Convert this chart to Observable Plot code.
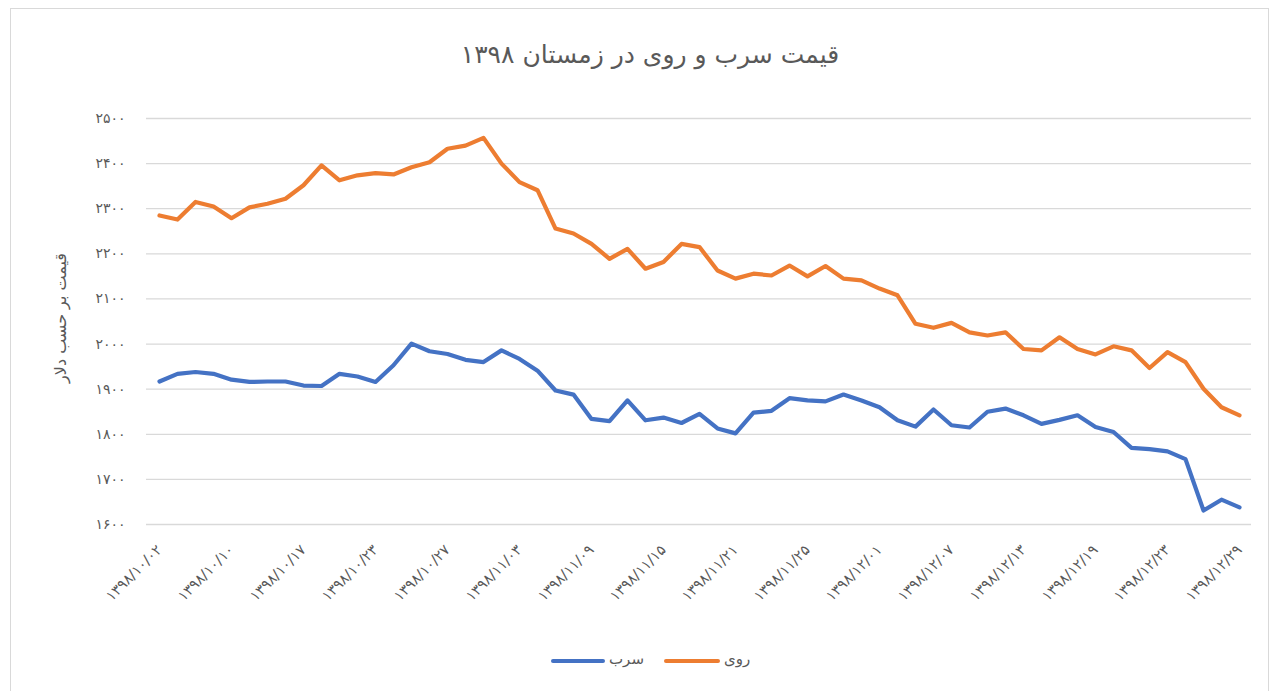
<!DOCTYPE html>
<html>
<head>
<meta charset="utf-8">
<script src="https://cdn.jsdelivr.net/npm/d3@7"></script>
<script src="https://cdn.jsdelivr.net/npm/@observablehq/plot@0.6"></script>
<style>
  html, body { margin: 0; padding: 0; background: #fff; }
  #wrap { position: relative; width: 1276px; height: 691px; overflow: hidden; font-family: "DejaVu Sans", sans-serif; }
  #frame { position: absolute; left: 10px; top: 8px; width: 1259px; height: 690px; border: 1px solid #d9d9d9; box-sizing: border-box; }
  #title { position: absolute; left: 0; width: 1300px; top: 40px; text-align: center; font-size: 25px; color: #595959; direction: rtl; }
  #ylabel { position: absolute; left: 60px; top: 318px; transform: translate(-50%, -50%) rotate(-90deg); white-space: nowrap; font-size: 16px; color: #595959; direction: rtl; }
  #chart { position: absolute; left: 0; top: 0; }
  .leg { position: absolute; top: 650px; font-size: 15px; color: #595959; direction: rtl; }
  .sw { position: absolute; top: 659px; height: 4px; border-radius: 2px; }
</style>
</head>
<body>
<div id="wrap">
  <div id="frame"></div>
  <div id="chart"></div>
  <div id="title">قیمت سرب و روی در زمستان ۱۳۹۸</div>
  <div id="ylabel"></div>
  <div class="sw" style="left:551px;width:54px;background:#4472C4"></div>
  <div class="leg" style="left:609px">سرب</div>
  <div class="sw" style="left:664px;width:56px;background:#ED7D31"></div>
  <div class="leg" style="left:724px">روی</div>
</div>
<script>
// Trading dates (Persian calendar)
const dates = [
  "۱۳۹۸/۱۰/۰۲","۱۳۹۸/۱۰/۰۳","۱۳۹۸/۱۰/۰۶","۱۳۹۸/۱۰/۰۹","۱۳۹۸/۱۰/۱۰",
  "۱۳۹۸/۱۰/۱۲","۱۳۹۸/۱۰/۱۳","۱۳۹۸/۱۰/۱۶","۱۳۹۸/۱۰/۱۷","۱۳۹۸/۱۰/۱۸",
  "۱۳۹۸/۱۰/۱۹","۱۳۹۸/۱۰/۲۰","۱۳۹۸/۱۰/۲۳","۱۳۹۸/۱۰/۲۴","۱۳۹۸/۱۰/۲۵",
  "۱۳۹۸/۱۰/۲۶","۱۳۹۸/۱۰/۲۷","۱۳۹۸/۱۰/۳۰","۱۳۹۸/۱۱/۰۱","۱۳۹۸/۱۱/۰۲",
  "۱۳۹۸/۱۱/۰۳","۱۳۹۸/۱۱/۰۴","۱۳۹۸/۱۱/۰۷","۱۳۹۸/۱۱/۰۸","۱۳۹۸/۱۱/۰۹",
  "۱۳۹۸/۱۱/۱۰","۱۳۹۸/۱۱/۱۱","۱۳۹۸/۱۱/۱۴","۱۳۹۸/۱۱/۱۵","۱۳۹۸/۱۱/۱۶",
  "۱۳۹۸/۱۱/۱۷","۱۳۹۸/۱۱/۱۸","۱۳۹۸/۱۱/۲۱","۱۳۹۸/۱۱/۲۲","۱۳۹۸/۱۱/۲۳",
  "۱۳۹۸/۱۱/۲۴","۱۳۹۸/۱۱/۲۵","۱۳۹۸/۱۱/۲۸","۱۳۹۸/۱۱/۲۹","۱۳۹۸/۱۱/۳۰",
  "۱۳۹۸/۱۲/۰۱","۱۳۹۸/۱۲/۰۲","۱۳۹۸/۱۲/۰۵","۱۳۹۸/۱۲/۰۶","۱۳۹۸/۱۲/۰۷",
  "۱۳۹۸/۱۲/۰۸","۱۳۹۸/۱۲/۰۹","۱۳۹۸/۱۲/۱۲","۱۳۹۸/۱۲/۱۳","۱۳۹۸/۱۲/۱۴",
  "۱۳۹۸/۱۲/۱۵","۱۳۹۸/۱۲/۱۶","۱۳۹۸/۱۲/۱۹","۱۳۹۸/۱۲/۲۰","۱۳۹۸/۱۲/۲۱",
  "۱۳۹۸/۱۲/۲۲","۱۳۹۸/۱۲/۲۳","۱۳۹۸/۱۲/۲۶","۱۳۹۸/۱۲/۲۷","۱۳۹۸/۱۲/۲۸",
  "۱۳۹۸/۱۲/۲۹"
];

// Lead (سرب) price, USD
const lead = [
  1917,1934,1938,1934,1921,1916,1917,1917,1908,1907,
  1934,1928,1916,1953,2001,1984,1978,1965,1960,1986,
  1967,1941,1897,1888,1834,1829,1875,1831,1837,1825,
  1845,1813,1802,1848,1852,1880,1875,1873,1888,1875,
  1860,1831,1817,1855,1820,1815,1850,1857,1842,1823,
  1832,1842,1816,1805,1770,1767,1762,1745,1631,1655,
  1638
];

// Zinc (روی) price, USD
const zinc = [
  2285,2276,2315,2305,2279,2303,2311,2322,2352,2396,
  2363,2374,2379,2376,2392,2403,2433,2440,2457,2400,
  2359,2341,2256,2245,2222,2189,2211,2167,2182,2222,
  2215,2163,2145,2156,2152,2174,2150,2173,2145,2141,
  2123,2108,2045,2036,2047,2026,2019,2026,1989,1986,
  2015,1989,1977,1995,1986,1947,1982,1960,1901,1860,
  1842
];

const seriesNames = ["سرب", "روی"];
const seriesColors = ["#4472C4", "#ED7D31"];

const yTickValues = [1600,1700,1800,1900,2000,2100,2200,2300,2400,2500];
const yTickLabels = ["۱۶۰۰","۱۷۰۰","۱۸۰۰","۱۹۰۰","۲۰۰۰","۲۱۰۰","۲۲۰۰","۲۳۰۰","۲۴۰۰","۲۵۰۰"];
const xTickDates = dates.filter((d, i) => i % 4 === 0);
const yLabel = "قیمت بر حسب دلار";
document.getElementById("ylabel").textContent = yLabel;

const rows = [
  ...dates.map((d, i) => ({date: d, metal: seriesNames[0], price: lead[i]})),
  ...dates.map((d, i) => ({date: d, metal: seriesNames[1], price: zinc[i]}))
];

const chart = Plot.plot({
  width: 1276,
  height: 640,
  marginLeft: 146,
  marginRight: 25,
  marginTop: 118,
  marginBottom: 116,
  style: {fontFamily: "DejaVu Sans, sans-serif", color: "#595959", background: "transparent"},
  x: {type: "point", domain: dates, padding: 0.5},
  y: {domain: [1600, 2500]},
  color: {domain: seriesNames, range: seriesColors},
  marks: [
    Plot.gridY(yTickValues, {stroke: "#d9d9d9", strokeOpacity: 1, strokeWidth: 1.3}),
    Plot.axisY(yTickValues, {
      tickSize: 0, tickPadding: 21, fontSize: 14, fill: "#595959",
      tickFormat: v => yTickLabels[yTickValues.indexOf(v)],
      label: null
    }),
    Plot.axisX(xTickDates, {
      tickSize: 0, tickPadding: 23, tickRotate: -45, fontSize: 14.5, fill: "#595959", label: null
    }),
    Plot.line(rows, {
      x: "date", y: "price", z: "metal", stroke: "metal",
      strokeWidth: 4.2, strokeLinejoin: "round", strokeLinecap: "round"
    })
  ]
});
document.getElementById("chart").appendChild(chart);
</script>
</body>
</html>
